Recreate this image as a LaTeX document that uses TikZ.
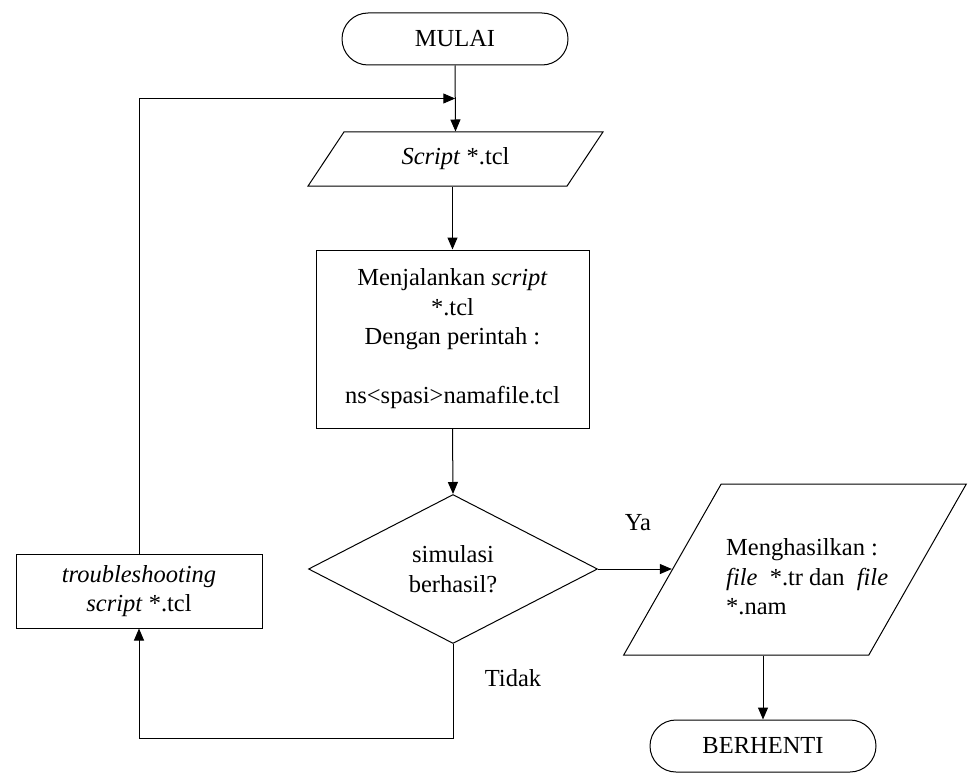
\documentclass[tikz,border=0pt]{standalone}
\usepackage{fontspec}
\setmainfont{Liberation Serif}
\usetikzlibrary{shapes.geometric,shapes.misc,arrows.meta,calc}
\begin{document}
\begin{tikzpicture}[x=1pt,y=-1pt,
  every node/.style={font=\fontsize{24.5}{29.5}\selectfont},
  base/.style={draw, line width=1pt, inner sep=0pt, align=center},
  terminal/.style={base, rounded rectangle, minimum width=226pt, minimum height=52pt},
  process/.style={base, rectangle},
  decision/.style={base, diamond},
  io/.style={base, trapezium, trapezium stretches=true},
  flow/.style={line width=1pt, -{Triangle[length=12pt,width=10pt]}},
  plain/.style={inner sep=0pt, align=left}
]
\useasboundingbox (0,0) rectangle (969,781);

% flowchart blocks
\node[terminal] (start) at (455,39) {MULAI};
\node[io, minimum width=295pt, minimum height=54pt,
      trapezium left angle=52, trapezium right angle=128] (script) at (455.5,159)
      {\textit{Script} *.tcl};
\node[process, minimum width=273pt, minimum height=178pt] (run) at (452.5,339)
      {Menjalankan \textit{script}\\*.tcl\\Dengan perintah :\\[29.5pt]ns<spasi>namafile.tcl};
\node[decision, minimum width=289pt, minimum height=149pt] (dec) at (453,569)
      {simulasi\\berhasil?};
\node[process, minimum width=246pt, minimum height=74pt] (fix) at (139,591)
      {\textit{troubleshooting}\\\textit{script} *.tcl};
\node[io, minimum width=344pt, minimum height=171pt,
      trapezium left angle=64, trapezium right angle=116] (out) at (795,569.5)
      {\hphantom{M}\strut};
\node[plain, anchor=west] (outtext) at (726,577)
      {Menghasilkan :\\\textit{file}\ \ *.tr dan \ \textit{file}\\*.nam};
\node[terminal] (stop) at (763,746) {BERHENTI};

% branch labels
\node[plain] (ya) at (638,523) {Ya};
\node[plain] (tidak) at (513,678) {Tidak};

% connectors
\coordinate (join) at ($(start.south)!0.5!(script.north)$);
\draw[flow] (start.south) -- (script.north);
\draw[flow] (run.north |- script.south) -- (run.north);
\draw[flow] (run.south) -- (dec.north);
\draw[flow] (dec.east) -- (dec.east -| out.west);
\draw[flow] (stop.north |- out.south) -- (stop.north);
\draw[flow] (dec.south) -- ++(0,94) -| (fix.south);
\draw[flow] (fix.north) |- (join);
\end{tikzpicture}
\end{document}
